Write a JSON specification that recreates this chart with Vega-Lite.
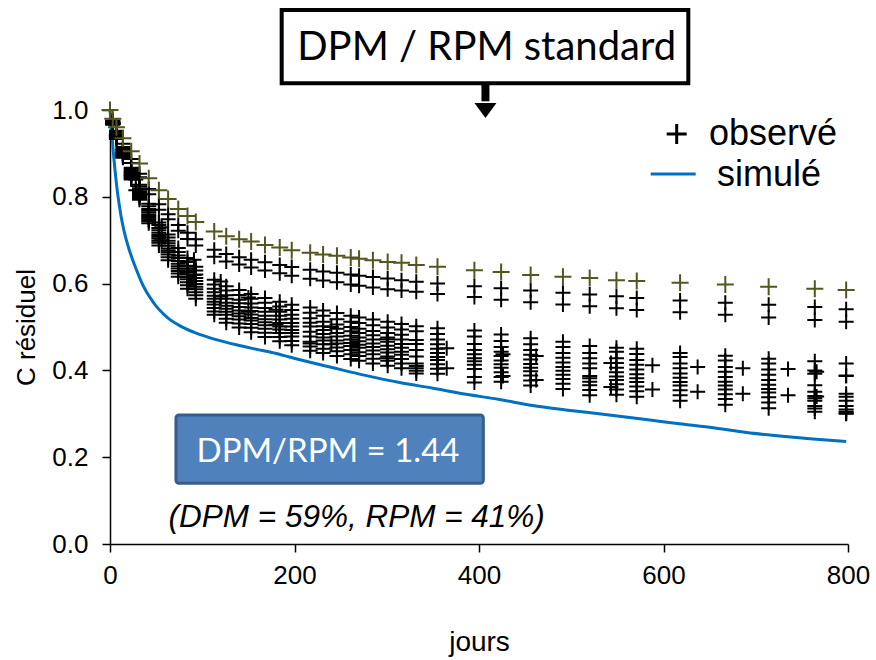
{
"$schema":"https://vega.github.io/schema/vega-lite/v6.json",
"width":738,"height":434,
"autosize":{"type":"none"},
"padding":{"left":110,"top":110,"right":28,"bottom":116},
"background":"white",
"config":{"view":{"stroke":null},
"axis":{"grid":false,"domainColor":"#000","domainWidth":1.5,"tickColor":"#000","tickWidth":1.5,"tickSize":8,"labelFont":"Liberation Sans","labelFontSize":26,"labelColor":"#000","titleFont":"Liberation Sans","titleFontWeight":"normal","titleColor":"#000"}},
"datasets":{
"obs":[
{"t":0,"c":1.0,"s":"O"},{"t":3,"c":0.98,"s":"O"},{"t":7,"c":0.96,"s":"O"},{"t":14,"c":0.935,"s":"O"},{"t":23,"c":0.905,"s":"O"},{"t":32,"c":0.877,"s":"O"},{"t":42,"c":0.843,"s":"O"},{"t":53,"c":0.815,"s":"O"},{"t":63,"c":0.795,"s":"O"},{"t":74,"c":0.772,"s":"O"},{"t":84,"c":0.756,"s":"O"},{"t":93,"c":0.742,"s":"O"},{"t":113,"c":0.72,"s":"O"},{"t":126,"c":0.709,"s":"O"},{"t":140,"c":0.702,"s":"O"},{"t":153,"c":0.697,"s":"O"},{"t":168,"c":0.689,"s":"O"},{"t":184,"c":0.683,"s":"O"},{"t":197,"c":0.677,"s":"O"},{"t":217,"c":0.671,"s":"O"},{"t":231,"c":0.667,"s":"O"},{"t":246,"c":0.664,"s":"O"},{"t":261,"c":0.66,"s":"O"},{"t":270,"c":0.657,"s":"O"},{"t":285,"c":0.654,"s":"O"},{"t":301,"c":0.65,"s":"O"},{"t":316,"c":0.648,"s":"O"},{"t":332,"c":0.643,"s":"O"},{"t":355,"c":0.639,"s":"O"},{"t":395,"c":0.631,"s":"O"},{"t":424,"c":0.627,"s":"O"},{"t":456,"c":0.62,"s":"O"},{"t":491,"c":0.616,"s":"O"},{"t":520,"c":0.613,"s":"O"},{"t":549,"c":0.608,"s":"O"},{"t":571,"c":0.606,"s":"O"},{"t":618,"c":0.602,"s":"O"},{"t":667,"c":0.598,"s":"O"},{"t":714,"c":0.593,"s":"O"},{"t":764,"c":0.588,"s":"O"},{"t":798,"c":0.585,"s":"O"},
{"t":0,"c":1.0,"s":"U1"},{"t":3,"c":0.976,"s":"U1"},{"t":7,"c":0.952,"s":"U1"},{"t":14,"c":0.922,"s":"U1"},{"t":23,"c":0.887,"s":"U1"},{"t":32,"c":0.853,"s":"U1"},{"t":42,"c":0.818,"s":"U1"},{"t":53,"c":0.783,"s":"U1"},{"t":63,"c":0.76,"s":"U1"},{"t":74,"c":0.735,"s":"U1"},{"t":84,"c":0.717,"s":"U1"},{"t":93,"c":0.702,"s":"U1"},{"t":113,"c":0.678,"s":"U1"},{"t":126,"c":0.668,"s":"U1"},{"t":140,"c":0.661,"s":"U1"},{"t":153,"c":0.655,"s":"U1"},{"t":168,"c":0.649,"s":"U1"},{"t":184,"c":0.643,"s":"U1"},{"t":197,"c":0.638,"s":"U1"},{"t":217,"c":0.632,"s":"U1"},{"t":231,"c":0.628,"s":"U1"},{"t":246,"c":0.625,"s":"U1"},{"t":261,"c":0.621,"s":"U1"},{"t":270,"c":0.618,"s":"U1"},{"t":285,"c":0.615,"s":"U1"},{"t":301,"c":0.612,"s":"U1"},{"t":316,"c":0.608,"s":"U1"},{"t":332,"c":0.604,"s":"U1"},{"t":355,"c":0.6,"s":"U1"},{"t":395,"c":0.594,"s":"U1"},{"t":424,"c":0.589,"s":"U1"},{"t":456,"c":0.584,"s":"U1"},{"t":491,"c":0.579,"s":"U1"},{"t":520,"c":0.575,"s":"U1"},{"t":549,"c":0.571,"s":"U1"},{"t":571,"c":0.567,"s":"U1"},{"t":618,"c":0.561,"s":"U1"},{"t":667,"c":0.556,"s":"U1"},{"t":714,"c":0.551,"s":"U1"},{"t":764,"c":0.546,"s":"U1"},{"t":798,"c":0.541,"s":"U1"},
{"t":0,"c":1.0,"s":"U2"},{"t":3,"c":0.974,"s":"U2"},{"t":7,"c":0.948,"s":"U2"},{"t":14,"c":0.915,"s":"U2"},{"t":23,"c":0.878,"s":"U2"},{"t":32,"c":0.845,"s":"U2"},{"t":42,"c":0.806,"s":"U2"},{"t":53,"c":0.77,"s":"U2"},{"t":63,"c":0.748,"s":"U2"},{"t":74,"c":0.722,"s":"U2"},{"t":84,"c":0.703,"s":"U2"},{"t":93,"c":0.688,"s":"U2"},{"t":113,"c":0.662,"s":"U2"},{"t":126,"c":0.651,"s":"U2"},{"t":140,"c":0.644,"s":"U2"},{"t":153,"c":0.637,"s":"U2"},{"t":168,"c":0.63,"s":"U2"},{"t":184,"c":0.624,"s":"U2"},{"t":197,"c":0.618,"s":"U2"},{"t":217,"c":0.611,"s":"U2"},{"t":231,"c":0.607,"s":"U2"},{"t":246,"c":0.603,"s":"U2"},{"t":261,"c":0.598,"s":"U2"},{"t":270,"c":0.595,"s":"U2"},{"t":285,"c":0.591,"s":"U2"},{"t":301,"c":0.587,"s":"U2"},{"t":316,"c":0.584,"s":"U2"},{"t":332,"c":0.581,"s":"U2"},{"t":355,"c":0.576,"s":"U2"},{"t":395,"c":0.569,"s":"U2"},{"t":424,"c":0.563,"s":"U2"},{"t":456,"c":0.557,"s":"U2"},{"t":491,"c":0.552,"s":"U2"},{"t":520,"c":0.548,"s":"U2"},{"t":549,"c":0.543,"s":"U2"},{"t":571,"c":0.539,"s":"U2"},{"t":618,"c":0.534,"s":"U2"},{"t":667,"c":0.528,"s":"U2"},{"t":714,"c":0.522,"s":"U2"},{"t":764,"c":0.516,"s":"U2"},{"t":798,"c":0.512,"s":"U2"},
{"t":0,"c":1.0,"s":"L1"},{"t":3,"c":0.972,"s":"L1"},{"t":7,"c":0.944,"s":"L1"},{"t":14,"c":0.909,"s":"L1"},{"t":23,"c":0.867,"s":"L1"},{"t":32,"c":0.828,"s":"L1"},{"t":42,"c":0.784,"s":"L1"},{"t":53,"c":0.741,"s":"L1"},{"t":63,"c":0.713,"s":"L1"},{"t":74,"c":0.682,"s":"L1"},{"t":84,"c":0.659,"s":"L1"},{"t":93,"c":0.639,"s":"L1"},{"t":113,"c":0.609,"s":"L1"},{"t":126,"c":0.594,"s":"L1"},{"t":140,"c":0.585,"s":"L1"},{"t":153,"c":0.576,"s":"L1"},{"t":168,"c":0.567,"s":"L1"},{"t":184,"c":0.558,"s":"L1"},{"t":197,"c":0.551,"s":"L1"},{"t":217,"c":0.545,"s":"L1"},{"t":231,"c":0.538,"s":"L1"},{"t":246,"c":0.532,"s":"L1"},{"t":261,"c":0.526,"s":"L1"},{"t":270,"c":0.522,"s":"L1"},{"t":285,"c":0.517,"s":"L1"},{"t":301,"c":0.512,"s":"L1"},{"t":316,"c":0.507,"s":"L1"},{"t":332,"c":0.502,"s":"L1"},{"t":355,"c":0.497,"s":"L1"},{"t":395,"c":0.492,"s":"L1"},{"t":424,"c":0.483,"s":"L1"},{"t":456,"c":0.474,"s":"L1"},{"t":491,"c":0.466,"s":"L1"},{"t":520,"c":0.456,"s":"L1"},{"t":549,"c":0.452,"s":"L1"},{"t":571,"c":0.45,"s":"L1"},{"t":618,"c":0.44,"s":"L1"},{"t":667,"c":0.434,"s":"L1"},{"t":714,"c":0.427,"s":"L1"},{"t":764,"c":0.421,"s":"L1"},{"t":798,"c":0.416,"s":"L1"},
{"t":0,"c":1.0,"s":"L2"},{"t":3,"c":0.971,"s":"L2"},{"t":7,"c":0.943,"s":"L2"},{"t":14,"c":0.907,"s":"L2"},{"t":23,"c":0.864,"s":"L2"},{"t":32,"c":0.824,"s":"L2"},{"t":42,"c":0.778,"s":"L2"},{"t":53,"c":0.735,"s":"L2"},{"t":63,"c":0.706,"s":"L2"},{"t":74,"c":0.673,"s":"L2"},{"t":84,"c":0.65,"s":"L2"},{"t":93,"c":0.63,"s":"L2"},{"t":113,"c":0.598,"s":"L2"},{"t":126,"c":0.584,"s":"L2"},{"t":140,"c":0.574,"s":"L2"},{"t":153,"c":0.565,"s":"L2"},{"t":168,"c":0.556,"s":"L2"},{"t":184,"c":0.547,"s":"L2"},{"t":197,"c":0.539,"s":"L2"},{"t":217,"c":0.533,"s":"L2"},{"t":231,"c":0.526,"s":"L2"},{"t":246,"c":0.518,"s":"L2"},{"t":261,"c":0.512,"s":"L2"},{"t":270,"c":0.509,"s":"L2"},{"t":285,"c":0.504,"s":"L2"},{"t":301,"c":0.499,"s":"L2"},{"t":316,"c":0.494,"s":"L2"},{"t":332,"c":0.49,"s":"L2"},{"t":355,"c":0.484,"s":"L2"},{"t":395,"c":0.478,"s":"L2"},{"t":424,"c":0.468,"s":"L2"},{"t":456,"c":0.46,"s":"L2"},{"t":491,"c":0.454,"s":"L2"},{"t":520,"c":0.44,"s":"L2"},{"t":549,"c":0.443,"s":"L2"},{"t":571,"c":0.438,"s":"L2"},{"t":618,"c":0.431,"s":"L2"},{"t":667,"c":0.423,"s":"L2"},{"t":714,"c":0.416,"s":"L2"},{"t":764,"c":0.4,"s":"L2"},{"t":798,"c":0.388,"s":"L2"},
{"t":0,"c":1.0,"s":"L3"},{"t":3,"c":0.971,"s":"L3"},{"t":7,"c":0.941,"s":"L3"},{"t":14,"c":0.904,"s":"L3"},{"t":23,"c":0.86,"s":"L3"},{"t":32,"c":0.819,"s":"L3"},{"t":42,"c":0.772,"s":"L3"},{"t":53,"c":0.728,"s":"L3"},{"t":63,"c":0.699,"s":"L3"},{"t":74,"c":0.665,"s":"L3"},{"t":84,"c":0.641,"s":"L3"},{"t":93,"c":0.621,"s":"L3"},{"t":113,"c":0.588,"s":"L3"},{"t":126,"c":0.573,"s":"L3"},{"t":140,"c":0.563,"s":"L3"},{"t":153,"c":0.554,"s":"L3"},{"t":168,"c":0.544,"s":"L3"},{"t":184,"c":0.535,"s":"L3"},{"t":197,"c":0.528,"s":"L3"},{"t":217,"c":0.52,"s":"L3"},{"t":231,"c":0.512,"s":"L3"},{"t":246,"c":0.506,"s":"L3"},{"t":261,"c":0.5,"s":"L3"},{"t":270,"c":0.496,"s":"L3"},{"t":285,"c":0.491,"s":"L3"},{"t":301,"c":0.486,"s":"L3"},{"t":316,"c":0.482,"s":"L3"},{"t":332,"c":0.47,"s":"L3"},{"t":355,"c":0.471,"s":"L3"},{"t":395,"c":0.461,"s":"L3"},{"t":424,"c":0.454,"s":"L3"},{"t":456,"c":0.447,"s":"L3"},{"t":491,"c":0.44,"s":"L3"},{"t":520,"c":0.428,"s":"L3"},{"t":549,"c":0.428,"s":"L3"},{"t":571,"c":0.424,"s":"L3"},{"t":618,"c":0.416,"s":"L3"},{"t":667,"c":0.408,"s":"L3"},{"t":714,"c":0.402,"s":"L3"},{"t":764,"c":0.392,"s":"L3"},{"t":798,"c":0.387,"s":"L3"},
{"t":0,"c":1.0,"s":"L4"},{"t":3,"c":0.97,"s":"L4"},{"t":7,"c":0.94,"s":"L4"},{"t":14,"c":0.902,"s":"L4"},{"t":23,"c":0.858,"s":"L4"},{"t":32,"c":0.816,"s":"L4"},{"t":42,"c":0.768,"s":"L4"},{"t":53,"c":0.723,"s":"L4"},{"t":63,"c":0.693,"s":"L4"},{"t":74,"c":0.659,"s":"L4"},{"t":84,"c":0.634,"s":"L4"},{"t":93,"c":0.613,"s":"L4"},{"t":113,"c":0.58,"s":"L4"},{"t":126,"c":0.565,"s":"L4"},{"t":140,"c":0.555,"s":"L4"},{"t":153,"c":0.545,"s":"L4"},{"t":168,"c":0.535,"s":"L4"},{"t":184,"c":0.526,"s":"L4"},{"t":197,"c":0.519,"s":"L4"},{"t":217,"c":0.51,"s":"L4"},{"t":231,"c":0.502,"s":"L4"},{"t":246,"c":0.496,"s":"L4"},{"t":261,"c":0.49,"s":"L4"},{"t":270,"c":0.486,"s":"L4"},{"t":285,"c":0.481,"s":"L4"},{"t":301,"c":0.476,"s":"L4"},{"t":316,"c":0.471,"s":"L4"},{"t":332,"c":0.461,"s":"L4"},{"t":355,"c":0.46,"s":"L4"},{"t":395,"c":0.447,"s":"L4"},{"t":424,"c":0.443,"s":"L4"},{"t":456,"c":0.436,"s":"L4"},{"t":491,"c":0.429,"s":"L4"},{"t":520,"c":0.416,"s":"L4"},{"t":549,"c":0.417,"s":"L4"},{"t":571,"c":0.413,"s":"L4"},{"t":618,"c":0.405,"s":"L4"},{"t":667,"c":0.397,"s":"L4"},{"t":714,"c":0.39,"s":"L4"},{"t":764,"c":0.366,"s":"L4"},{"t":798,"c":0.346,"s":"L4"},
{"t":0,"c":1.0,"s":"L5"},{"t":3,"c":0.97,"s":"L5"},{"t":7,"c":0.939,"s":"L5"},{"t":14,"c":0.9,"s":"L5"},{"t":23,"c":0.855,"s":"L5"},{"t":32,"c":0.812,"s":"L5"},{"t":42,"c":0.764,"s":"L5"},{"t":53,"c":0.717,"s":"L5"},{"t":63,"c":0.687,"s":"L5"},{"t":74,"c":0.652,"s":"L5"},{"t":84,"c":0.627,"s":"L5"},{"t":93,"c":0.606,"s":"L5"},{"t":113,"c":0.572,"s":"L5"},{"t":126,"c":0.556,"s":"L5"},{"t":140,"c":0.546,"s":"L5"},{"t":153,"c":0.537,"s":"L5"},{"t":168,"c":0.526,"s":"L5"},{"t":184,"c":0.517,"s":"L5"},{"t":197,"c":0.509,"s":"L5"},{"t":217,"c":0.501,"s":"L5"},{"t":231,"c":0.493,"s":"L5"},{"t":246,"c":0.486,"s":"L5"},{"t":261,"c":0.48,"s":"L5"},{"t":270,"c":0.476,"s":"L5"},{"t":285,"c":0.471,"s":"L5"},{"t":301,"c":0.466,"s":"L5"},{"t":316,"c":0.461,"s":"L5"},{"t":332,"c":0.447,"s":"L5"},{"t":355,"c":0.45,"s":"L5"},{"t":395,"c":0.437,"s":"L5"},{"t":424,"c":0.433,"s":"L5"},{"t":456,"c":0.425,"s":"L5"},{"t":491,"c":0.418,"s":"L5"},{"t":520,"c":0.405,"s":"L5"},{"t":549,"c":0.406,"s":"L5"},{"t":571,"c":0.402,"s":"L5"},{"t":618,"c":0.393,"s":"L5"},{"t":667,"c":0.385,"s":"L5"},{"t":714,"c":0.378,"s":"L5"},{"t":764,"c":0.351,"s":"L5"},{"t":798,"c":0.339,"s":"L5"},
{"t":0,"c":1.0,"s":"L6"},{"t":3,"c":0.969,"s":"L6"},{"t":7,"c":0.938,"s":"L6"},{"t":14,"c":0.899,"s":"L6"},{"t":23,"c":0.852,"s":"L6"},{"t":32,"c":0.809,"s":"L6"},{"t":42,"c":0.759,"s":"L6"},{"t":53,"c":0.712,"s":"L6"},{"t":63,"c":0.681,"s":"L6"},{"t":74,"c":0.646,"s":"L6"},{"t":84,"c":0.621,"s":"L6"},{"t":93,"c":0.599,"s":"L6"},{"t":113,"c":0.565,"s":"L6"},{"t":126,"c":0.549,"s":"L6"},{"t":140,"c":0.538,"s":"L6"},{"t":153,"c":0.529,"s":"L6"},{"t":168,"c":0.518,"s":"L6"},{"t":184,"c":0.509,"s":"L6"},{"t":197,"c":0.501,"s":"L6"},{"t":217,"c":0.489,"s":"L6"},{"t":231,"c":0.484,"s":"L6"},{"t":246,"c":0.478,"s":"L6"},{"t":261,"c":0.471,"s":"L6"},{"t":270,"c":0.467,"s":"L6"},{"t":285,"c":0.462,"s":"L6"},{"t":301,"c":0.457,"s":"L6"},{"t":316,"c":0.452,"s":"L6"},{"t":332,"c":0.432,"s":"L6"},{"t":355,"c":0.44,"s":"L6"},{"t":395,"c":0.428,"s":"L6"},{"t":424,"c":0.423,"s":"L6"},{"t":456,"c":0.415,"s":"L6"},{"t":491,"c":0.408,"s":"L6"},{"t":520,"c":0.387,"s":"L6"},{"t":549,"c":0.396,"s":"L6"},{"t":571,"c":0.391,"s":"L6"},{"t":618,"c":0.383,"s":"L6"},{"t":667,"c":0.374,"s":"L6"},{"t":714,"c":0.367,"s":"L6"},{"t":764,"c":0.341,"s":"L6"},{"t":798,"c":0.33,"s":"L6"},
{"t":0,"c":1.0,"s":"L7"},{"t":3,"c":0.969,"s":"L7"},{"t":7,"c":0.937,"s":"L7"},{"t":14,"c":0.897,"s":"L7"},{"t":23,"c":0.85,"s":"L7"},{"t":32,"c":0.806,"s":"L7"},{"t":42,"c":0.756,"s":"L7"},{"t":53,"c":0.708,"s":"L7"},{"t":63,"c":0.676,"s":"L7"},{"t":74,"c":0.64,"s":"L7"},{"t":84,"c":0.615,"s":"L7"},{"t":93,"c":0.593,"s":"L7"},{"t":113,"c":0.558,"s":"L7"},{"t":126,"c":0.542,"s":"L7"},{"t":140,"c":0.531,"s":"L7"},{"t":153,"c":0.521,"s":"L7"},{"t":168,"c":0.511,"s":"L7"},{"t":184,"c":0.501,"s":"L7"},{"t":197,"c":0.493,"s":"L7"},{"t":217,"c":0.478,"s":"L7"},{"t":231,"c":0.476,"s":"L7"},{"t":246,"c":0.469,"s":"L7"},{"t":261,"c":0.463,"s":"L7"},{"t":270,"c":0.459,"s":"L7"},{"t":285,"c":0.454,"s":"L7"},{"t":301,"c":0.449,"s":"L7"},{"t":316,"c":0.443,"s":"L7"},{"t":332,"c":0.416,"s":"L7"},{"t":355,"c":0.431,"s":"L7"},{"t":395,"c":0.421,"s":"L7"},{"t":424,"c":0.414,"s":"L7"},{"t":456,"c":0.406,"s":"L7"},{"t":491,"c":0.399,"s":"L7"},{"t":520,"c":0.382,"s":"L7"},{"t":549,"c":0.386,"s":"L7"},{"t":571,"c":0.382,"s":"L7"},{"t":618,"c":0.373,"s":"L7"},{"t":667,"c":0.365,"s":"L7"},{"t":714,"c":0.357,"s":"L7"},{"t":764,"c":0.336,"s":"L7"},{"t":798,"c":0.318,"s":"L7"},
{"t":0,"c":1.0,"s":"L8"},{"t":3,"c":0.968,"s":"L8"},{"t":7,"c":0.936,"s":"L8"},{"t":14,"c":0.896,"s":"L8"},{"t":23,"c":0.848,"s":"L8"},{"t":32,"c":0.803,"s":"L8"},{"t":42,"c":0.752,"s":"L8"},{"t":53,"c":0.704,"s":"L8"},{"t":63,"c":0.672,"s":"L8"},{"t":74,"c":0.635,"s":"L8"},{"t":84,"c":0.61,"s":"L8"},{"t":93,"c":0.587,"s":"L8"},{"t":113,"c":0.552,"s":"L8"},{"t":126,"c":0.535,"s":"L8"},{"t":140,"c":0.525,"s":"L8"},{"t":153,"c":0.515,"s":"L8"},{"t":168,"c":0.504,"s":"L8"},{"t":184,"c":0.494,"s":"L8"},{"t":197,"c":0.486,"s":"L8"},{"t":217,"c":0.466,"s":"L8"},{"t":231,"c":0.469,"s":"L8"},{"t":246,"c":0.462,"s":"L8"},{"t":261,"c":0.456,"s":"L8"},{"t":270,"c":0.452,"s":"L8"},{"t":285,"c":0.446,"s":"L8"},{"t":301,"c":0.441,"s":"L8"},{"t":316,"c":0.436,"s":"L8"},{"t":332,"c":0.41,"s":"L8"},{"t":355,"c":0.424,"s":"L8"},{"t":395,"c":0.413,"s":"L8"},{"t":424,"c":0.406,"s":"L8"},{"t":456,"c":0.398,"s":"L8"},{"t":491,"c":0.39,"s":"L8"},{"t":520,"c":0.374,"s":"L8"},{"t":549,"c":0.378,"s":"L8"},{"t":571,"c":0.373,"s":"L8"},{"t":618,"c":0.365,"s":"L8"},{"t":667,"c":0.356,"s":"L8"},{"t":714,"c":0.349,"s":"L8"},{"t":764,"c":0.33,"s":"L8"},{"t":798,"c":0.31,"s":"L8"},
{"t":0,"c":1.0,"s":"L9"},{"t":3,"c":0.968,"s":"L9"},{"t":7,"c":0.935,"s":"L9"},{"t":14,"c":0.894,"s":"L9"},{"t":23,"c":0.845,"s":"L9"},{"t":32,"c":0.8,"s":"L9"},{"t":42,"c":0.748,"s":"L9"},{"t":53,"c":0.699,"s":"L9"},{"t":63,"c":0.667,"s":"L9"},{"t":74,"c":0.629,"s":"L9"},{"t":84,"c":0.603,"s":"L9"},{"t":93,"c":0.58,"s":"L9"},{"t":113,"c":0.544,"s":"L9"},{"t":126,"c":0.528,"s":"L9"},{"t":140,"c":0.517,"s":"L9"},{"t":153,"c":0.507,"s":"L9"},{"t":168,"c":0.496,"s":"L9"},{"t":184,"c":0.486,"s":"L9"},{"t":197,"c":0.478,"s":"L9"},{"t":217,"c":0.462,"s":"L9"},{"t":231,"c":0.46,"s":"L9"},{"t":246,"c":0.453,"s":"L9"},{"t":261,"c":0.447,"s":"L9"},{"t":270,"c":0.442,"s":"L9"},{"t":285,"c":0.437,"s":"L9"},{"t":301,"c":0.432,"s":"L9"},{"t":316,"c":0.426,"s":"L9"},{"t":332,"c":0.405,"s":"L9"},{"t":355,"c":0.414,"s":"L9"},{"t":395,"c":0.403,"s":"L9"},{"t":424,"c":0.396,"s":"L9"},{"t":456,"c":0.388,"s":"L9"},{"t":491,"c":0.38,"s":"L9"},{"t":520,"c":0.366,"s":"L9"},{"t":549,"c":0.368,"s":"L9"},{"t":571,"c":0.363,"s":"L9"},{"t":618,"c":0.354,"s":"L9"},{"t":667,"c":0.345,"s":"L9"},{"t":714,"c":0.338,"s":"L9"},{"t":764,"c":0.318,"s":"L9"},{"t":798,"c":0.305,"s":"L9"},
{"t":0,"c":1.0,"s":"L10"},{"t":3,"c":0.967,"s":"L10"},{"t":7,"c":0.934,"s":"L10"},{"t":14,"c":0.892,"s":"L10"},{"t":23,"c":0.843,"s":"L10"},{"t":32,"c":0.797,"s":"L10"},{"t":42,"c":0.744,"s":"L10"},{"t":53,"c":0.694,"s":"L10"},{"t":63,"c":0.661,"s":"L10"},{"t":74,"c":0.623,"s":"L10"},{"t":84,"c":0.596,"s":"L10"},{"t":93,"c":0.573,"s":"L10"},{"t":113,"c":0.536,"s":"L10"},{"t":126,"c":0.519,"s":"L10"},{"t":140,"c":0.508,"s":"L10"},{"t":153,"c":0.498,"s":"L10"},{"t":168,"c":0.487,"s":"L10"},{"t":184,"c":0.477,"s":"L10"},{"t":197,"c":0.468,"s":"L10"},{"t":217,"c":0.455,"s":"L10"},{"t":231,"c":0.45,"s":"L10"},{"t":246,"c":0.444,"s":"L10"},{"t":261,"c":0.437,"s":"L10"},{"t":270,"c":0.433,"s":"L10"},{"t":285,"c":0.427,"s":"L10"},{"t":301,"c":0.422,"s":"L10"},{"t":316,"c":0.416,"s":"L10"},{"t":332,"c":0.399,"s":"L10"},{"t":355,"c":0.404,"s":"L10"},{"t":395,"c":0.385,"s":"L10"},{"t":424,"c":0.385,"s":"L10"},{"t":456,"c":0.377,"s":"L10"},{"t":491,"c":0.369,"s":"L10"},{"t":520,"c":0.355,"s":"L10"},{"t":549,"c":0.356,"s":"L10"},{"t":571,"c":0.352,"s":"L10"},{"t":618,"c":0.343,"s":"L10"},{"t":667,"c":0.334,"s":"L10"},{"t":714,"c":0.326,"s":"L10"},{"t":764,"c":0.312,"s":"L10"},{"t":798,"c":0.301,"s":"L10"},
{"t":0,"c":1.0,"s":"L11"},{"t":3,"c":0.966,"s":"L11"},{"t":7,"c":0.933,"s":"L11"},{"t":14,"c":0.89,"s":"L11"},{"t":23,"c":0.84,"s":"L11"},{"t":32,"c":0.793,"s":"L11"},{"t":42,"c":0.739,"s":"L11"},{"t":53,"c":0.688,"s":"L11"},{"t":63,"c":0.654,"s":"L11"},{"t":74,"c":0.616,"s":"L11"},{"t":84,"c":0.588,"s":"L11"},{"t":93,"c":0.565,"s":"L11"},{"t":113,"c":0.528,"s":"L11"},{"t":126,"c":0.51,"s":"L11"},{"t":140,"c":0.499,"s":"L11"},{"t":153,"c":0.488,"s":"L11"},{"t":168,"c":0.477,"s":"L11"},{"t":184,"c":0.467,"s":"L11"},{"t":197,"c":0.458,"s":"L11"},{"t":217,"c":0.445,"s":"L11"},{"t":231,"c":0.44,"s":"L11"},{"t":246,"c":0.433,"s":"L11"},{"t":261,"c":0.426,"s":"L11"},{"t":270,"c":0.422,"s":"L11"},{"t":285,"c":0.416,"s":"L11"},{"t":301,"c":0.411,"s":"L11"},{"t":316,"c":0.405,"s":"L11"},{"t":332,"c":0.393,"s":"L11"},{"t":355,"c":0.392,"s":"L11"},{"t":395,"c":0.372,"s":"L11"},{"t":424,"c":0.374,"s":"L11"},{"t":456,"c":0.365,"s":"L11"},{"t":491,"c":0.357,"s":"L11"},{"t":520,"c":0.343,"s":"L11"},{"t":549,"c":0.344,"s":"L11"},{"t":571,"c":0.339,"s":"L11"},{"t":618,"c":0.33,"s":"L11"},{"t":667,"c":0.321,"s":"L11"},{"t":714,"c":0.313,"s":"L11"},{"t":764,"c":0.305,"s":"L11"},{"t":798,"c":0.3,"s":"L11"},
{"t":0,"c":1.0,"s":"E1"},{"t":7,"c":0.95,"s":"E1"},{"t":14,"c":0.91,"s":"E1"},{"t":28,"c":0.84,"s":"E1"},{"t":56,"c":0.73,"s":"E1"},{"t":91,"c":0.655,"s":"E1"},{"t":120,"c":0.605,"s":"E1"},{"t":150,"c":0.568,"s":"E1"},{"t":180,"c":0.54,"s":"E1"},{"t":240,"c":0.5,"s":"E1"},{"t":300,"c":0.472,"s":"E1"},{"t":365,"c":0.451,"s":"E1"},{"t":426,"c":0.437,"s":"E1"},{"t":462,"c":0.433,"s":"E1"},{"t":543,"c":0.417,"s":"E1"},{"t":588,"c":0.412,"s":"E1"},{"t":637,"c":0.408,"s":"E1"},{"t":686,"c":0.405,"s":"E1"},{"t":735,"c":0.403,"s":"E1"},{"t":766,"c":0.397,"s":"E1"},
{"t":0,"c":1.0,"s":"E2"},{"t":7,"c":0.94,"s":"E2"},{"t":14,"c":0.895,"s":"E2"},{"t":28,"c":0.815,"s":"E2"},{"t":56,"c":0.7,"s":"E2"},{"t":91,"c":0.62,"s":"E2"},{"t":120,"c":0.57,"s":"E2"},{"t":150,"c":0.535,"s":"E2"},{"t":180,"c":0.505,"s":"E2"},{"t":240,"c":0.46,"s":"E2"},{"t":300,"c":0.428,"s":"E2"},{"t":365,"c":0.405,"s":"E2"},{"t":426,"c":0.387,"s":"E2"},{"t":462,"c":0.378,"s":"E2"},{"t":543,"c":0.362,"s":"E2"},{"t":588,"c":0.356,"s":"E2"},{"t":637,"c":0.351,"s":"E2"},{"t":686,"c":0.346,"s":"E2"},{"t":735,"c":0.343,"s":"E2"},{"t":766,"c":0.34,"s":"E2"}
],
"sim":[
{"t":0,"c":1.0},{"t":1,"c":0.975},{"t":2,"c":0.945},{"t":3,"c":0.918},{"t":4,"c":0.893},{"t":6,"c":0.85},{"t":8,"c":0.812},{"t":10,"c":0.782},{"t":12,"c":0.755},{"t":14,"c":0.733},{"t":17,"c":0.706},{"t":21,"c":0.677},{"t":25,"c":0.652},{"t":29,"c":0.63},{"t":34,"c":0.604},{"t":39,"c":0.583},{"t":45,"c":0.563},{"t":50,"c":0.548},{"t":57,"c":0.532},{"t":65,"c":0.517},{"t":74,"c":0.505},{"t":83,"c":0.495},{"t":97,"c":0.483},{"t":115,"c":0.471},{"t":137,"c":0.459},{"t":158,"c":0.449},{"t":180,"c":0.439},{"t":205,"c":0.425},{"t":242,"c":0.406},{"t":278,"c":0.388},{"t":314,"c":0.372},{"t":350,"c":0.359},{"t":386,"c":0.345},{"t":422,"c":0.333},{"t":458,"c":0.319},{"t":494,"c":0.309},{"t":530,"c":0.3},{"t":581,"c":0.287},{"t":617,"c":0.277},{"t":654,"c":0.268},{"t":690,"c":0.257},{"t":726,"c":0.249},{"t":762,"c":0.242},{"t":798,"c":0.236}
]
},
"layer":[
{"data":{"values":[{}]},"mark":{"type":"rect","fill":"white","stroke":"#000","strokeWidth":4},
 "encoding":{"x":{"datum":186.1,"type":"quantitative","scale":{"domain":[0,800],"nice":false},"axis":{"title":"jours","titleFontSize":28,"titlePadding":40,"values":[0,200,400,600,800],"labelPadding":10,"labelFlush":false}},"x2":{"datum":626.9},"y":{"datum":1.2304,"type":"quantitative","scale":{"domain":[0,1],"nice":false},"axis":{"title":"C résiduel","titleFontSize":26,"titlePadding":12,"values":[0,0.2,0.4,0.6,0.8,1],"format":".1f","labelPadding":14}},"y2":{"datum":1.0615}}},
{"data":{"values":[{}]},"mark":{"type":"text","text":"DPM / RPM standard","font":"Lato","fontSize":40,"color":"#000","align":"center","baseline":"alphabetic"},
 "encoding":{"x":{"datum":408.3,"type":"quantitative","scale":{"domain":[0,800],"nice":false},"axis":{"title":"jours","titleFontSize":28,"titlePadding":40,"values":[0,200,400,600,800],"labelPadding":10,"labelFlush":false}},"y":{"datum":1.1152,"type":"quantitative","scale":{"domain":[0,1],"nice":false},"axis":{"title":"C résiduel","titleFontSize":26,"titlePadding":12,"values":[0,0.2,0.4,0.6,0.8,1],"format":".1f","labelPadding":14}}}},
{"data":{"values":[{}]},"mark":{"type":"rule","color":"#000","strokeWidth":8},
 "encoding":{"x":{"datum":407.0,"type":"quantitative","scale":{"domain":[0,800],"nice":false},"axis":{"title":"jours","titleFontSize":28,"titlePadding":40,"values":[0,200,400,600,800],"labelPadding":10,"labelFlush":false}},"y":{"datum":1.0615,"type":"quantitative","scale":{"domain":[0,1],"nice":false},"axis":{"title":"C résiduel","titleFontSize":26,"titlePadding":12,"values":[0,0.2,0.4,0.6,0.8,1],"format":".1f","labelPadding":14}},"y2":{"datum":1.02}}},
{"data":{"values":[{}]},"mark":{"type":"point","shape":"M-1,-0.68L1,-0.68L0,0.68Z","filled":true,"color":"#000","opacity":1,"size":484},
 "encoding":{"x":{"datum":407.0,"type":"quantitative","scale":{"domain":[0,800],"nice":false},"axis":{"title":"jours","titleFontSize":28,"titlePadding":40,"values":[0,200,400,600,800],"labelPadding":10,"labelFlush":false}},"y":{"datum":0.9988,"type":"quantitative","scale":{"domain":[0,1],"nice":false},"axis":{"title":"C résiduel","titleFontSize":26,"titlePadding":12,"values":[0,0.2,0.4,0.6,0.8,1],"format":".1f","labelPadding":14}}}},
{"data":{"values":[{}]},"mark":{"type":"rect","fill":"#4f81bd","stroke":"#385d8a","strokeWidth":3,"cornerRadius":3},
 "encoding":{"x":{"datum":71.5,"type":"quantitative","scale":{"domain":[0,800],"nice":false},"axis":{"title":"jours","titleFontSize":28,"titlePadding":40,"values":[0,200,400,600,800],"labelPadding":10,"labelFlush":false}},"x2":{"datum":404.7},"y":{"datum":0.2972,"type":"quantitative","scale":{"domain":[0,1],"nice":false},"axis":{"title":"C résiduel","titleFontSize":26,"titlePadding":12,"values":[0,0.2,0.4,0.6,0.8,1],"format":".1f","labelPadding":14}},"y2":{"datum":0.1399}}},
{"data":{"values":[{}]},"mark":{"type":"text","text":"DPM/RPM = 1.44","font":"Lato","fontSize":33,"color":"#ffffff","align":"center","baseline":"alphabetic"},
 "encoding":{"x":{"datum":236.3,"type":"quantitative","scale":{"domain":[0,800],"nice":false},"axis":{"title":"jours","titleFontSize":28,"titlePadding":40,"values":[0,200,400,600,800],"labelPadding":10,"labelFlush":false}},"y":{"datum":0.1896,"type":"quantitative","scale":{"domain":[0,1],"nice":false},"axis":{"title":"C résiduel","titleFontSize":26,"titlePadding":12,"values":[0,0.2,0.4,0.6,0.8,1],"format":".1f","labelPadding":14}}}},
{"data":{"values":[{}]},"mark":{"type":"text","text":"(DPM = 59%, RPM = 41%)","font":"Liberation Sans","fontSize":31.5,"fontStyle":"italic","color":"#000","align":"center","baseline":"alphabetic"},
 "encoding":{"x":{"datum":267.4,"type":"quantitative","scale":{"domain":[0,800],"nice":false},"axis":{"title":"jours","titleFontSize":28,"titlePadding":40,"values":[0,200,400,600,800],"labelPadding":10,"labelFlush":false}},"y":{"datum":0.0399,"type":"quantitative","scale":{"domain":[0,1],"nice":false},"axis":{"title":"C résiduel","titleFontSize":26,"titlePadding":12,"values":[0,0.2,0.4,0.6,0.8,1],"format":".1f","labelPadding":14}}}},
{"data":{"name":"sim"},"mark":{"type":"line","color":"#0070c0","strokeWidth":3,"interpolate":"monotone"},
 "encoding":{"x":{"field":"t","type":"quantitative","scale":{"domain":[0,800],"nice":false},"axis":{"title":"jours","titleFontSize":28,"titlePadding":40,"values":[0,200,400,600,800],"labelPadding":10,"labelFlush":false}},"y":{"field":"c","type":"quantitative","scale":{"domain":[0,1],"nice":false},"axis":{"title":"C résiduel","titleFontSize":26,"titlePadding":12,"values":[0,0.2,0.4,0.6,0.8,1],"format":".1f","labelPadding":14}}}},
{"data":{"name":"obs"},"transform":[{"filter":"datum.s !== 'O'"}],
 "mark":{"type":"point","shape":"M-1,0L1,0M0,-1L0,1","filled":false,"stroke":"#000","strokeWidth":2,"size":225,"opacity":1},
 "encoding":{"x":{"field":"t","type":"quantitative","scale":{"domain":[0,800],"nice":false},"axis":{"title":"jours","titleFontSize":28,"titlePadding":40,"values":[0,200,400,600,800],"labelPadding":10,"labelFlush":false}},"y":{"field":"c","type":"quantitative","scale":{"domain":[0,1],"nice":false},"axis":{"title":"C résiduel","titleFontSize":26,"titlePadding":12,"values":[0,0.2,0.4,0.6,0.8,1],"format":".1f","labelPadding":14}}}},
{"data":{"name":"obs"},"transform":[{"filter":"datum.s === 'O'"}],
 "mark":{"type":"point","shape":"M-1,0L1,0M0,-1L0,1","filled":false,"stroke":"#55551f","strokeWidth":2,"size":289,"opacity":1},
 "encoding":{"x":{"field":"t","type":"quantitative","scale":{"domain":[0,800],"nice":false},"axis":{"title":"jours","titleFontSize":28,"titlePadding":40,"values":[0,200,400,600,800],"labelPadding":10,"labelFlush":false}},"y":{"field":"c","type":"quantitative","scale":{"domain":[0,1],"nice":false},"axis":{"title":"C résiduel","titleFontSize":26,"titlePadding":12,"values":[0,0.2,0.4,0.6,0.8,1],"format":".1f","labelPadding":14}}}},
{"data":{"values":[{}]},"mark":{"type":"point","shape":"M-1,0L1,0M0,-1L0,1","filled":false,"stroke":"#000","strokeWidth":3,"size":400,"opacity":1},
 "encoding":{"x":{"datum":614.3,"type":"quantitative","scale":{"domain":[0,800],"nice":false},"axis":{"title":"jours","titleFontSize":28,"titlePadding":40,"values":[0,200,400,600,800],"labelPadding":10,"labelFlush":false}},"y":{"datum":0.9447,"type":"quantitative","scale":{"domain":[0,1],"nice":false},"axis":{"title":"C résiduel","titleFontSize":26,"titlePadding":12,"values":[0,0.2,0.4,0.6,0.8,1],"format":".1f","labelPadding":14}}}},
{"data":{"values":[{}]},"mark":{"type":"text","text":"observé","font":"Liberation Sans","fontSize":36,"color":"#000","align":"left","baseline":"alphabetic"},
 "encoding":{"x":{"datum":649.3,"type":"quantitative","scale":{"domain":[0,800],"nice":false},"axis":{"title":"jours","titleFontSize":28,"titlePadding":40,"values":[0,200,400,600,800],"labelPadding":10,"labelFlush":false}},"y":{"datum":0.9194,"type":"quantitative","scale":{"domain":[0,1],"nice":false},"axis":{"title":"C résiduel","titleFontSize":26,"titlePadding":12,"values":[0,0.2,0.4,0.6,0.8,1],"format":".1f","labelPadding":14}}}},
{"data":{"values":[{}]},"mark":{"type":"rule","color":"#0070c0","strokeWidth":3},
 "encoding":{"x":{"datum":586.1,"type":"quantitative","scale":{"domain":[0,800],"nice":false},"axis":{"title":"jours","titleFontSize":28,"titlePadding":40,"values":[0,200,400,600,800],"labelPadding":10,"labelFlush":false}},"x2":{"datum":634.9},"y":{"datum":0.8525,"type":"quantitative","scale":{"domain":[0,1],"nice":false},"axis":{"title":"C résiduel","titleFontSize":26,"titlePadding":12,"values":[0,0.2,0.4,0.6,0.8,1],"format":".1f","labelPadding":14}}}},
{"data":{"values":[{}]},"mark":{"type":"text","text":"simulé","font":"Liberation Sans","fontSize":36,"color":"#000","align":"left","baseline":"alphabetic"},
 "encoding":{"x":{"datum":658.0,"type":"quantitative","scale":{"domain":[0,800],"nice":false},"axis":{"title":"jours","titleFontSize":28,"titlePadding":40,"values":[0,200,400,600,800],"labelPadding":10,"labelFlush":false}},"y":{"datum":0.8249,"type":"quantitative","scale":{"domain":[0,1],"nice":false},"axis":{"title":"C résiduel","titleFontSize":26,"titlePadding":12,"values":[0,0.2,0.4,0.6,0.8,1],"format":".1f","labelPadding":14}}}}
]
}
